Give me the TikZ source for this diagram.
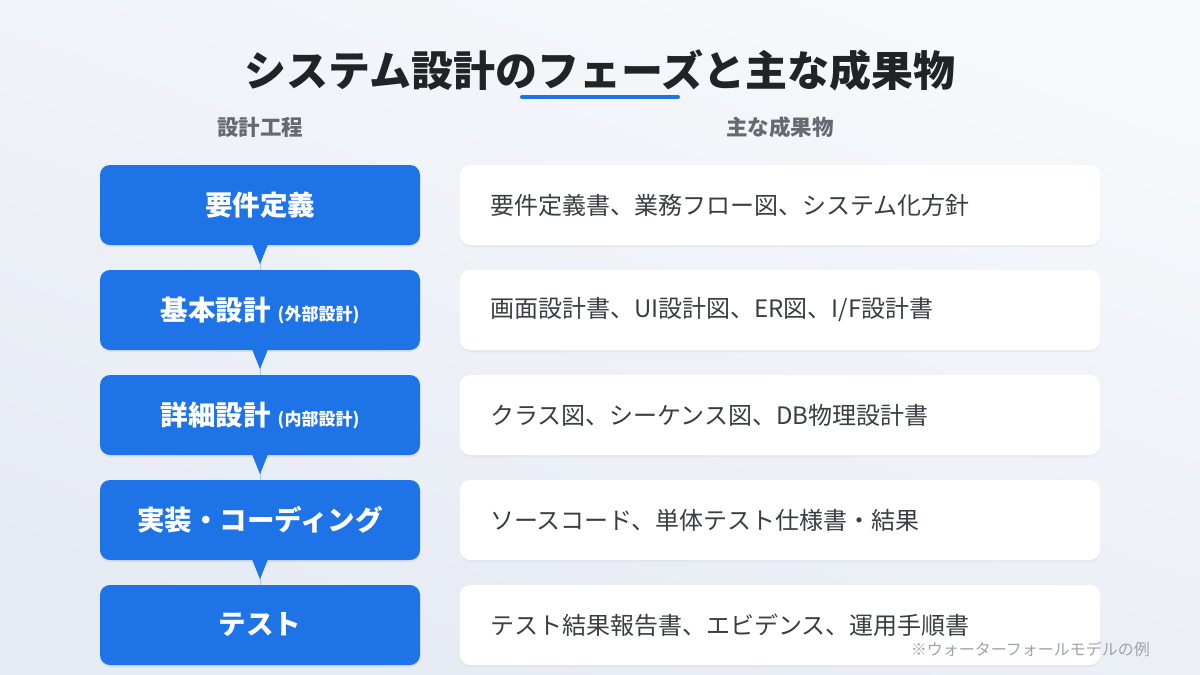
\documentclass[tikz,border=0pt]{standalone}
\usepackage{fontspec}
\setmainfont{Noto Sans CJK JP}
\usetikzlibrary{shadows,calc}
\definecolor{bgA}{HTML}{F6F8FB}
\definecolor{bgB}{HTML}{E6EAF3}
\definecolor{phaseblue}{HTML}{1E74E6}
\definecolor{titlec}{HTML}{212327}
\definecolor{headc}{HTML}{666A70}
\definecolor{bodyc}{HTML}{3A3D42}
\definecolor{notec}{HTML}{A0A4AA}
\definecolor{connc}{HTML}{A9C6EE}
\tikzset{
  phasebox/.style={fill=phaseblue, rounded corners=10pt, minimum width=320pt, minimum height=80pt, inner sep=0pt, text=white, font=\bfseries\fontsize{27.5}{32}\selectfont, drop shadow={opacity=0.12, shadow xshift=0pt, shadow yshift=-2pt}},
  outbox/.style={fill=white, rounded corners=10pt, minimum width=640pt, minimum height=80pt, inner sep=0pt, drop shadow={opacity=0.08, shadow xshift=0pt, shadow yshift=-2pt}},
  outtext/.style={anchor=west, text=bodyc, font=\fontsize{24}{28}\selectfont, inner sep=0pt},
  colhead/.style={text=headc, font=\bfseries\fontsize{21.5}{26}\selectfont},
  conn/.style={draw=connc, line width=1pt},
  tri/.style={fill=phaseblue},
}
\newcommand{\smallparen}[1]{\hspace{7pt}{\fontsize{17}{21}\selectfont (#1)}}
\begin{document}
\begin{tikzpicture}[x=1pt,y=-1pt]
\shade[top color=bgA, bottom color=bgB, shading angle=-20] (0,0) rectangle (1200,675);
\useasboundingbox (0,0) rectangle (1200,675);
% title
\node[text=titlec, font=\bfseries\fontsize{42}{50}\selectfont] (title) at (600,70) {システム設計のフェーズと主な成果物};
\draw[phaseblue, line width=4pt, line cap=round] (522,97) -- (678,97);
% column headers
\node[colhead] (h1) at (260,127) {設計工程};
\node[colhead] (h2) at (780,127) {主な成果物};
% phases
\node[phasebox] (b1) at (260,205) {要件定義};
\node[phasebox] (b2) at (260,310) {基本設計\smallparen{外部設計}};
\node[phasebox] (b3) at (260,415) {詳細設計\smallparen{内部設計}};
\node[phasebox] (b4) at (260,520) {実装・コーディング};
\node[phasebox] (b5) at (260,625) {テスト};
% connectors
\foreach \a/\b in {b1/b2,b2/b3,b3/b4,b4/b5}{
  \draw[conn] (\a.south) -- (\b.north);
  \fill[tri] ($(\a.south)+(-8,-1)$) -- ($(\a.south)+(8,-1)$) -- ($(\a.south)+(0,19)$) -- cycle;
}
% outputs
\node[outbox] (o1) at (780,205) {};
\node[outbox] (o2) at (780,310) {};
\node[outbox] (o3) at (780,415) {};
\node[outbox] (o4) at (780,520) {};
\node[outbox] (o5) at (780,625) {};
\node[outtext] (t1) at ($(o1.west)+(30,0)$) {要件定義書、業務フロー図、システム化方針};
\node[outtext] (t2) at ($(o2.west)+(30,0)$) {画面設計書、UI設計図、ER図、I/F設計書};
\node[outtext] (t3) at ($(o3.west)+(30,0)$) {クラス図、シーケンス図、DB物理設計書};
\node[outtext] (t4) at ($(o4.west)+(30,0)$) {ソースコード、単体テスト仕様書・結果};
\node[outtext] (t5) at ($(o5.west)+(30,0)$) {テスト結果報告書、エビデンス、運用手順書};
% note
\node[anchor=east, text=notec, font=\fontsize{16}{19}\selectfont, inner sep=0pt] (note) at (1150,649) {※ウォーターフォールモデルの例};
\end{tikzpicture}
\end{document}
